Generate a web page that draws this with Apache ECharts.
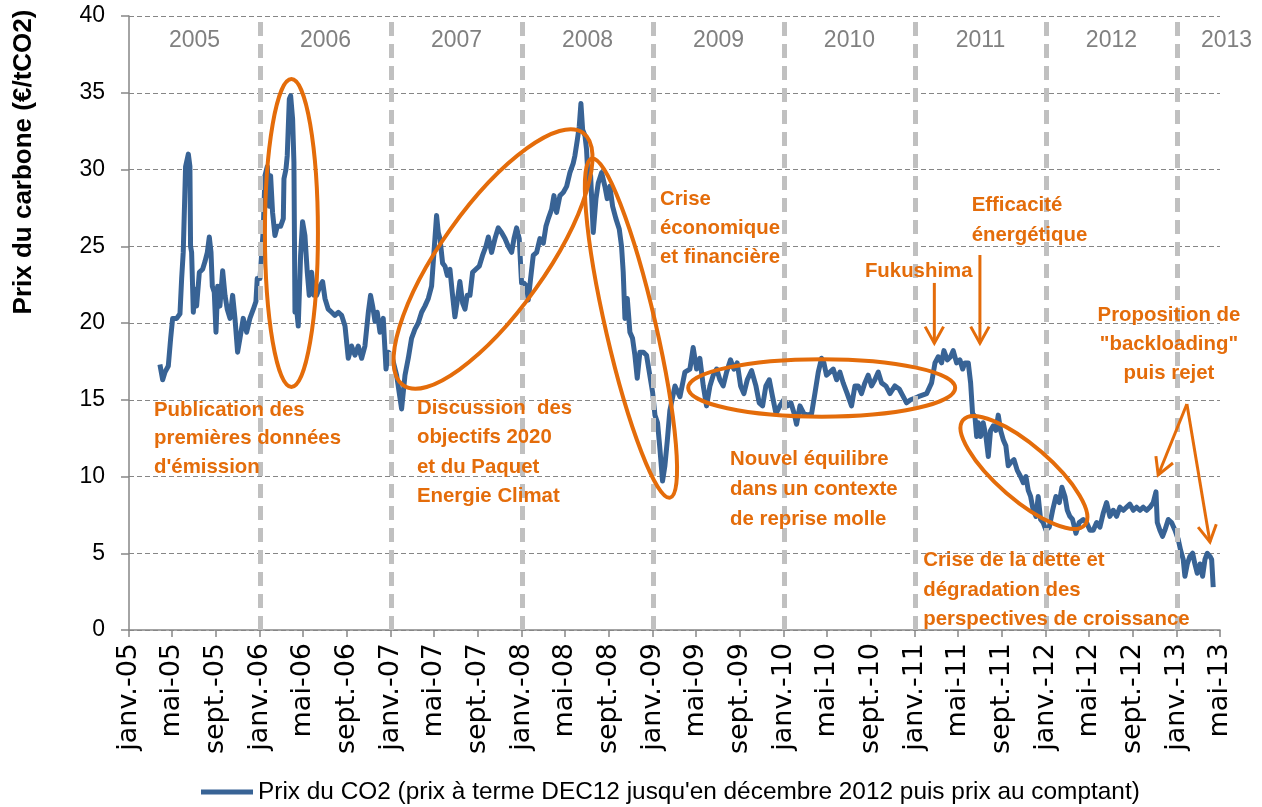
<!DOCTYPE html>
<html>
<head>
<meta charset="utf-8">
<script src="https://cdn.jsdelivr.net/npm/echarts@6/dist/echarts.min.js"></script>
<style>
  html, body { margin: 0; padding: 0; background: #fff; }
  #main { width: 1262px; height: 807px; }
</style>
</head>
<body>
<div id="main"></div>
<script>
// dates are fractional years (2005.5 = early july 2005), prices in €/tCO2
var p2005 = [[2005.236,17.3],[2005.257,16.3],[2005.275,16.8],[2005.300,17.2],[2005.318,19.0],[2005.333,20.3],[2005.364,20.3],[2005.389,20.6],[2005.402,22.9],[2005.414,24.6],[2005.432,30.2],[2005.453,31.0],[2005.465,30.2],[2005.470,25.0],[2005.478,24.6],[2005.491,20.7],[2005.504,22.2],[2005.516,21.1],[2005.537,23.3],[2005.562,23.5],[2005.580,24.0],[2005.598,24.6],[2005.613,25.6],[2005.626,24.6],[2005.636,22.4],[2005.651,22.0],[2005.664,19.4],[2005.677,22.4],[2005.694,21.1],[2005.715,23.4],[2005.733,21.8],[2005.750,20.9],[2005.771,20.3],[2005.791,21.8],[2005.809,20.3],[2005.829,18.1],[2005.847,19.0],[2005.872,20.3],[2005.898,19.4],[2005.923,20.3],[2005.949,20.9],[2005.969,21.4],[2005.979,22.9]];
var p2006 = [[2006.000,22.9],[2006.025,26.1],[2006.038,29.6],[2006.056,30.2],[2006.071,27.6],[2006.081,29.6],[2006.096,27.2],[2006.114,25.7],[2006.132,26.3],[2006.157,26.3],[2006.178,26.8],[2006.183,29.4],[2006.198,30.0],[2006.208,30.9],[2006.224,34.6],[2006.234,34.8],[2006.249,33.3],[2006.259,30.5],[2006.267,20.7],[2006.280,20.9],[2006.292,19.8],[2006.310,24.4],[2006.325,26.6],[2006.343,25.7],[2006.361,23.3],[2006.376,21.8],[2006.394,23.3],[2006.412,21.8],[2006.432,21.8],[2006.458,22.4],[2006.478,22.7],[2006.496,21.6],[2006.521,20.9],[2006.547,20.7],[2006.572,20.5],[2006.598,20.7],[2006.623,20.5],[2006.649,19.8],[2006.674,17.7],[2006.699,18.5],[2006.725,17.9],[2006.750,18.5],[2006.776,17.7],[2006.801,18.5],[2006.827,20.7],[2006.844,21.8],[2006.860,21.1],[2006.878,20.1],[2006.895,20.7],[2006.916,19.4],[2006.941,20.3],[2006.962,17.0],[2006.979,18.1]];
var p2007 = [[2007.005,17.9],[2007.043,16.6],[2007.081,14.4],[2007.107,16.6],[2007.132,17.7],[2007.157,19.0],[2007.183,19.6],[2007.208,20.0],[2007.234,20.7],[2007.259,21.1],[2007.285,21.6],[2007.310,22.4],[2007.328,24.6],[2007.348,27.0],[2007.361,25.9],[2007.374,25.5],[2007.394,23.9],[2007.412,23.7],[2007.430,23.1],[2007.450,23.5],[2007.470,21.8],[2007.488,20.4],[2007.509,21.6],[2007.526,22.7],[2007.547,21.3],[2007.565,20.9],[2007.582,21.8],[2007.603,21.8],[2007.623,23.3],[2007.648,23.5],[2007.674,23.7],[2007.699,24.4],[2007.725,25.0],[2007.743,25.6],[2007.768,24.6],[2007.794,25.5],[2007.819,26.2],[2007.844,25.9],[2007.870,25.5],[2007.895,25.0],[2007.921,24.6],[2007.939,25.5],[2007.959,26.2],[2007.979,25.5],[2007.997,22.6]];
var p2008 = [[2008.015,22.6],[2008.035,22.4],[2008.048,21.5],[2008.066,22.9],[2008.086,24.4],[2008.112,24.6],[2008.137,25.5],[2008.163,25.2],[2008.183,26.3],[2008.201,26.8],[2008.226,27.4],[2008.244,28.3],[2008.264,27.2],[2008.290,28.3],[2008.315,28.5],[2008.341,28.9],[2008.366,29.8],[2008.391,30.4],[2008.404,30.9],[2008.422,31.9],[2008.437,32.8],[2008.450,34.3],[2008.463,32.6],[2008.481,32.2],[2008.493,31.3],[2008.506,29.1],[2008.524,29.6],[2008.544,25.9],[2008.565,28.1],[2008.582,29.1],[2008.608,29.8],[2008.633,28.9],[2008.651,28.1],[2008.671,28.9],[2008.692,27.6],[2008.717,26.8],[2008.743,26.1],[2008.760,25.0],[2008.773,23.3],[2008.786,20.3],[2008.804,21.6],[2008.824,19.4],[2008.844,19.0],[2008.862,17.9],[2008.880,16.4],[2008.900,18.1],[2008.926,18.1],[2008.951,17.9],[2008.972,16.8],[2008.997,15.5]];
var p2009 = [[2009.015,14.0],[2009.035,13.5],[2009.053,11.8],[2009.073,9.7],[2009.091,10.7],[2009.109,12.3],[2009.129,14.3],[2009.168,15.9],[2009.206,15.2],[2009.244,16.8],[2009.282,17.0],[2009.307,18.4],[2009.333,17.0],[2009.358,17.7],[2009.384,15.9],[2009.409,14.6],[2009.435,15.9],[2009.460,16.6],[2009.486,17.0],[2009.511,16.3],[2009.536,15.9],[2009.562,16.8],[2009.592,17.6],[2009.618,17.0],[2009.643,17.4],[2009.669,15.9],[2009.694,15.4],[2009.720,16.3],[2009.753,16.9],[2009.786,15.9],[2009.811,14.8],[2009.837,14.6],[2009.862,15.9],[2009.888,16.3],[2009.913,15.2],[2009.939,14.1],[2009.969,14.6]];
var p2010 = [[2010.000,15.0],[2010.028,14.6],[2010.053,14.8],[2010.078,14.1],[2010.096,13.4],[2010.122,14.6],[2010.152,14.1],[2010.185,14.0],[2010.211,14.1],[2010.236,15.4],[2010.262,16.8],[2010.287,17.7],[2010.305,17.4],[2010.325,16.6],[2010.351,16.8],[2010.376,17.0],[2010.402,16.3],[2010.427,16.8],[2010.452,16.1],[2010.483,15.4],[2010.516,14.6],[2010.542,15.9],[2010.567,15.9],[2010.592,15.4],[2010.618,16.1],[2010.643,16.6],[2010.669,15.9],[2010.694,16.3],[2010.720,16.8],[2010.745,16.1],[2010.778,15.9],[2010.809,15.4],[2010.847,15.9],[2010.880,15.7],[2010.911,15.2],[2010.936,14.8],[2010.967,15.0]];
var p2011 = [[2011.000,15.1],[2011.025,15.2],[2011.089,15.4],[2011.127,16.1],[2011.153,17.4],[2011.178,17.8],[2011.203,17.4],[2011.221,18.2],[2011.247,17.6],[2011.272,17.8],[2011.292,18.2],[2011.318,17.4],[2011.343,17.6],[2011.364,17.0],[2011.381,17.4],[2011.407,17.4],[2011.425,16.1],[2011.440,14.1],[2011.458,13.9],[2011.471,12.6],[2011.483,13.5],[2011.501,12.6],[2011.521,13.5],[2011.542,12.6],[2011.560,11.3],[2011.577,13.0],[2011.598,13.3],[2011.618,13.0],[2011.636,14.0],[2011.654,13.0],[2011.674,12.4],[2011.694,12.0],[2011.712,10.7],[2011.730,10.9],[2011.756,11.1],[2011.781,10.4],[2011.806,10.0],[2011.827,9.6],[2011.847,10.0],[2011.865,9.1],[2011.883,8.7],[2011.903,7.8],[2011.924,7.4],[2011.941,8.7],[2011.959,7.2],[2011.979,7.0]];
var p2012 = [[2012.000,6.5],[2012.025,6.7],[2012.051,7.8],[2012.076,8.7],[2012.102,8.3],[2012.122,9.3],[2012.145,8.7],[2012.163,7.8],[2012.183,7.4],[2012.203,7.2],[2012.229,6.3],[2012.254,7.0],[2012.285,7.2],[2012.310,7.0],[2012.336,6.5],[2012.361,6.5],[2012.387,7.0],[2012.412,6.7],[2012.437,7.6],[2012.463,8.3],[2012.488,7.4],[2012.514,7.8],[2012.539,7.4],[2012.565,8.0],[2012.590,7.8],[2012.616,8.0],[2012.641,8.2],[2012.667,7.8],[2012.692,8.0],[2012.717,7.8],[2012.743,8.0],[2012.768,7.8],[2012.794,8.0],[2012.819,8.3],[2012.840,9.0],[2012.850,7.0],[2012.870,6.5],[2012.890,6.1],[2012.908,6.5],[2012.934,7.2],[2012.959,7.0],[2012.985,6.5]];
var p2013 = [[2013.010,5.9],[2013.028,5.2],[2013.048,4.6],[2013.061,3.5],[2013.079,4.3],[2013.099,4.8],[2013.120,5.0],[2013.137,4.3],[2013.155,3.7],[2013.176,4.3],[2013.196,3.5],[2013.214,4.6],[2013.232,5.0],[2013.252,4.8],[2013.265,4.6],[2013.277,2.8]];

var seriesName = "Prix du CO2 (prix à terme DEC12 jusqu'en décembre 2012 puis prix au comptant)";
var yearLabels = ['2005', '2006', '2007', '2008', '2009', '2010', '2011', '2012', '2013'];
var yearLines = [2006, 2007, 2008, 2009, 2010, 2011, 2012, 2013];
var monthNames = ['janv.', 'mai', 'sept.'];
var monthStart = [0, 120, 243]; // day of year

// events written on the chart, anchored in (year, price)
var notes = [
  { t: 2005.191, v: 14.33, lh: 28.5, text: 'Publication des\npremières données\nd\'émission' },
  { t: 2007.198, v: 14.46, lh: 29.5, text: 'Discussion  des\nobjectifs 2020\net du Paquet\nEnergie Climat' },
  { t: 2009.053, v: 28.08, lh: 29, text: 'Crise\néconomique\net financière' },
  { t: 2010.618, v: 23.34, lh: 29, text: 'Fukushima' },
  { t: 2011.433, v: 27.64, lh: 30, text: 'Efficacité\nénergétique' },
  { t: 2012.939, v: 20.52, lh: 29, text: 'Proposition de\n"backloading"\npuis rejet', align: 'center' },
  { t: 2009.588, v: 11.12, lh: 30, text: 'Nouvel équilibre\ndans un contexte\nde reprise molle' },
  { t: 2011.063, v: 4.51, lh: 29.3, text: 'Crise de la dette et\ndégradation des\nperspectives de croissance' }
];
var rings = [
  { t: 2006.240, v: 25.86, rx: 26.5, ry: 154, rot: 0 },
  { t: 2007.779, v: 24.17, rx: 155, ry: 52, rot: 54.5 },
  { t: 2008.832, v: 19.67, rx: 25, ry: 174, rot: 13 },
  { t: 2010.288, v: 15.77, rx: 133.5, ry: 28.7, rot: 0 },
  { t: 2011.832, v: 10.26, rx: 80.4, ry: 27, rot: -40.8 }
];
var arrows = [
  { from: [2011.148, 22.61], to: [2011.148, 18.68] },
  { from: [2011.496, 24.43], to: [2011.496, 18.68] },
  { from: [2013.076, 14.72], to: [2012.857, 10.10] },
  { from: [2013.076, 14.72], to: [2013.252, 5.73] }
];

var prices = [].concat(p2005, p2006, p2007, p2008, p2009, p2010, p2011, p2012, p2013);
var xMin = 2005;
var xMax = 2013 + 120 / 365;

var tickValues = [];
var tickNames = [];
for (var y = 2005; y <= 2013; y++) {
  for (var m = 0; m < 3; m++) {
    var v = y + monthStart[m] / 365;
    if (v > xMax + 1e-6) continue;
    tickValues.push(v);
    tickNames.push(monthNames[m] + '-' + String(y).slice(2));
  }
}

var orange = '#e46c0a';
var blue = '#386395';

var myChart = echarts.init(document.getElementById('main'));

var option = {
  animation: false,
  grid: { left: 129, right: 42, top: 16, bottom: 177 },
  legend: {
    data: [seriesName],
    icon: 'rect',
    itemWidth: 52,
    itemHeight: 5,
    left: 201,
    top: 780,
    padding: 0,
    textStyle: { fontFamily: 'Liberation Sans', fontSize: 24.4, color: '#000' }
  },
  xAxis: {
    type: 'value',
    min: xMin,
    max: xMax,
    axisLine: { show: true, lineStyle: { color: '#868686', width: 1.5 } },
    axisTick: { show: true, customValues: tickValues, length: 7, lineStyle: { color: '#868686', width: 1.5 } },
    axisLabel: {
      customValues: tickValues,
      rotate: 90,
      margin: 13,
      fontFamily: 'DejaVu Sans',
      fontSize: 27,
      color: '#000',
      formatter: function (val) {
        var best = 0;
        for (var i = 1; i < tickValues.length; i++) {
          if (Math.abs(tickValues[i] - val) < Math.abs(tickValues[best] - val)) best = i;
        }
        return tickNames[best];
      }
    },
    splitLine: { show: false }
  },
  yAxis: {
    type: 'value',
    min: 0,
    max: 40,
    interval: 5,
    axisLine: { show: true, lineStyle: { color: '#868686', width: 1.5 } },
    axisTick: { show: true, length: 8, lineStyle: { color: '#868686', width: 1.5 } },
    axisLabel: { fontFamily: 'Liberation Sans', fontSize: 23, color: '#000', margin: 24 },
    splitLine: { show: true, lineStyle: { color: '#868686', width: 1, type: [5, 3] } }
  },
  series: [
    {
      name: seriesName,
      type: 'line',
      data: prices,
      showSymbol: false,
      color: blue,
      lineStyle: { width: 5, color: blue, join: 'round' },
      z: 2
    },
    {
      name: 'years',
      type: 'line',
      data: [],
      z: 3,
      markLine: {
        silent: true,
        symbol: ['none', 'none'],
        label: { show: false },
        lineStyle: { color: '#c0c0c0', width: 5, type: [14, 8] },
        data: yearLines.map(function (y) { return { xAxis: y }; })
      }
    }
  ]
};

myChart.setOption(option);

function px(t, v) {
  return myChart.convertToPixel({ gridIndex: 0 }, [t, v]);
}

var graphics = [];

yearLabels.forEach(function (lab, i) {
  var t = Math.min(Number(lab) + 0.5, xMax + 0.05);
  var p = px(t, 38.37);
  graphics.push({
    type: 'text', x: p[0], y: p[1], z: 90,
    style: {
      text: lab, fill: '#808080', font: '23px "Liberation Sans"',
      align: 'center', verticalAlign: 'middle', textAlign: 'center', textVerticalAlign: 'middle',
      shadowColor: 'rgba(0,0,0,0.35)', shadowBlur: 2, shadowOffsetX: 1, shadowOffsetY: 1
    }
  });
});

rings.forEach(function (r) {
  var p = px(r.t, r.v);
  graphics.push({
    type: 'ellipse', x: p[0], y: p[1], z: 100,
    rotation: r.rot * Math.PI / 180,
    shape: { cx: 0, cy: 0, rx: r.rx, ry: r.ry },
    style: { fill: 'none', stroke: orange, lineWidth: 4 }
  });
});

arrows.forEach(function (a) {
  var p1 = px(a.from[0], a.from[1]);
  var p2 = px(a.to[0], a.to[1]);
  var dx = p2[0] - p1[0], dy = p2[1] - p1[1];
  var len = Math.sqrt(dx * dx + dy * dy);
  var ux = dx / len, uy = dy / len;
  var ang = 29 * Math.PI / 180, L = 19;
  function arm(s) {
    var c = Math.cos(s * ang), sn = Math.sin(s * ang);
    var rx = ux * c - uy * sn, ry = ux * sn + uy * c;
    return [p2[0] - L * rx, p2[1] - L * ry];
  }
  graphics.push({
    type: 'polyline', z: 100,
    shape: { points: [p1, p2] },
    style: { stroke: orange, lineWidth: 3, fill: null }
  });
  graphics.push({
    type: 'polyline', z: 100,
    shape: { points: [arm(1), p2, arm(-1)] },
    style: { stroke: orange, lineWidth: 3, fill: null, lineJoin: 'miter' }
  });
});

notes.forEach(function (n) {
  var p = px(n.t, n.v);
  graphics.push({
    type: 'text', x: p[0], y: p[1] - n.lh / 2, z: 110,
    style: {
      text: n.text, fill: orange, font: 'bold 20.4px "Liberation Sans"', lineHeight: n.lh,
      align: n.align || 'left', textAlign: n.align || 'left',
      verticalAlign: 'top', textVerticalAlign: 'top'
    }
  });
});

graphics.push({
  type: 'text', x: 24, y: 162, z: 100,
  rotation: Math.PI / 2,
  style: {
    text: 'Prix du carbone (€/tCO2)', fill: '#000', font: 'bold 26px "Liberation Sans"',
    align: 'center', verticalAlign: 'middle', textAlign: 'center', textVerticalAlign: 'middle'
  }
});

myChart.setOption({ graphic: graphics });
</script>
</body>
</html>
